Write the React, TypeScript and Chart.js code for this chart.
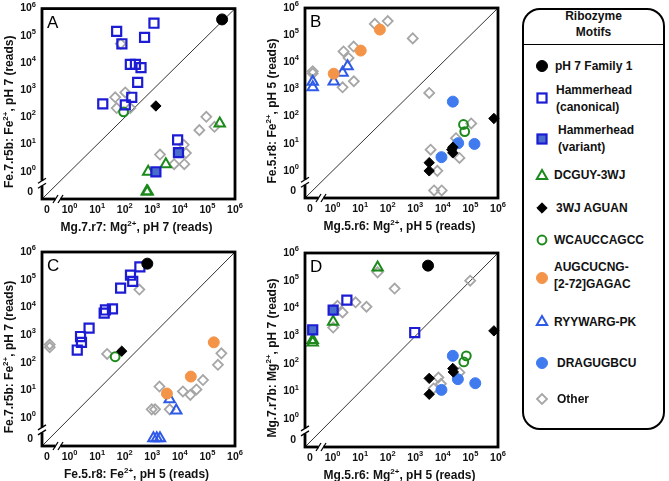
import React, { useEffect, useRef } from 'react';
import { Chart, registerables } from 'chart.js';
Chart.register(...registerables);

const FONT = '"Liberation Sans", Arial, Helvetica, sans-serif';

type Pt = [number, number]; // [x reads, y reads]; 0 reads sits on the broken "0" position

// ---------------- tick labels ----------------
const DECADE_EXPONENTS = [0, 1, 2, 3, 4, 5, 6];
const ZERO_TICK_LABEL = '0';

// ---------------- Panel A ----------------
const A_X_TITLE = 'Mg.7.r7: Mg^{2+}, pH 7 (reads)';
const A_Y_TITLE = 'Fe.7.r5b: Fe^{2+}, pH 7 (reads)';
const A_pH7: Pt[] = [[340000, 400000]];
const A_hhCanon: Pt[] = [[51, 145000], [79, 51000], [1150, 290000], [525, 87000], [160, 8900], [245, 8900], [390, 6800], [295, 1950], [180, 550], [105, 290], [16, 316], [8300, 15]];
const A_hhVariant: Pt[] = [[8900, 5.1], [1350, 1]];
const A_dcguy: Pt[] = [[280000, 60], [3100, 1.9], [710, 1], [630, 0], [680, 0]];
const A_aguan: Pt[] = [[1350, 263]];
const A_wcauc: Pt[] = [[91, 160]];
const A_augcu: Pt[] = [];
const A_ryywarg: Pt[] = [];
const A_dragu: Pt[] = [];
const A_other: Pt[] = [[45, 550], [105, 830], [51, 220], [160, 220], [72, 51000], [1900, 4.3], [6200, 1.9], [14500, 1.9], [16600, 4.9], [51000, 34], [91000, 105], [180000, 45], [13800, 9.8]];

// ---------------- Panel B ----------------
const B_X_TITLE = 'Mg.5.r6: Mg^{2+}, pH 5 (reads)';
const B_Y_TITLE = 'Fe.5.r8: Fe^{2+}, pH 5 (reads)';
const B_pH7: Pt[] = [];
const B_hhCanon: Pt[] = [];
const B_hhVariant: Pt[] = [];
const B_dcguy: Pt[] = [];
const B_aguan: Pt[] = [[3200, 2], [3200, 1], [23000, 7.4], [21000, 6], [23000, 4.6], [710000, 85]];
const B_wcauc: Pt[] = [[56000, 51], [62000, 28]];
const B_augcu: Pt[] = [[52, 160000], [10.5, 27000], [1.1, 3800]];
const B_ryywarg: Pt[] = [[0, 1900], [0, 1200], [1.1, 1950], [2.3, 4100], [3.5, 7200]];
const B_dragu: Pt[] = [[23000, 355], [8900, 3.2], [36000, 10.5], [140000, 9.8]];
const B_other: Pt[] = [[34, 260000], [100, 330000], [810, 76000], [2.5, 25000], [5.8, 38000], [3.8, 14500], [5.9, 2000], [2.3, 1200], [0, 4700], [0, 3900], [3200, 740], [3600, 6], [6300, 1], [4800, 0], [9100, 0], [40000, 3], [30000, 16], [107000, 56]];

// ---------------- Panel C ----------------
const C_X_TITLE = 'Fe.5.r8: Fe^{2+}, pH 5 (reads)';
const C_Y_TITLE = 'Fe.7.r5b: Fe^{2+}, pH 7 (reads)';
const C_pH7: Pt[] = [[660, 380000]];
const C_hhCanon: Pt[] = [[355, 290000], [162, 145000], [195, 87000], [71, 50000], [36, 8900], [20, 8100], [18, 6200], [5.1, 1800], [2.5, 890], [2.7, 550], [1.9, 290]];
const C_hhVariant: Pt[] = [];
const C_dcguy: Pt[] = [];
const C_aguan: Pt[] = [[78, 263]];
const C_wcauc: Pt[] = [[45, 166]];
const C_augcu: Pt[] = [[170000, 550], [25000, 32], [3400, 7.8]];
const C_ryywarg: Pt[] = [[4270, 4.9], [7400, 1.9], [1100, 0], [1450, 0], [1900, 0]];
const C_dragu: Pt[] = [];
const C_other: Pt[] = [[0, 363], [0, 460], [23, 209], [340, 44000], [1820, 14], [1260, 2.1], [950, 2.1], [4270, 2.1], [12900, 9.3], [24000, 7], [40000, 11], [69000, 24], [240000, 85], [320000, 220]];

// ---------------- Panel D ----------------
const D_X_TITLE = 'Mg.5.r6: Mg^{2+}, pH 5 (reads)';
const D_Y_TITLE = 'Mg.7.r7b: Mg^{2+}, pH 7 (reads)';
const D_pH7: Pt[] = [[2900, 350000]];
const D_hhCanon: Pt[] = [[3.3, 20000], [955, 1350]];
const D_hhVariant: Pt[] = [[1.05, 8700], [0, 1700]];
const D_dcguy: Pt[] = [[43, 300000], [1.05, 3300], [0, 720], [0, 590]];
const D_aguan: Pt[] = [[710000, 1550], [3200, 30], [23000, 68], [24000, 51], [3200, 8]];
const D_wcauc: Pt[] = [[71000, 195], [57500, 117]];
const D_augcu: Pt[] = [];
const D_ryywarg: Pt[] = [];
const D_dragu: Pt[] = [[23000, 195], [35000, 28], [150000, 20], [8900, 11.5]];
const D_other: Pt[] = [[43, 200000], [178, 52000], [6.8, 16600], [17, 11500], [2.3, 7200], [1.5, 12500], [1.05, 2040], [98000, 100000], [6900, 32], [8500, 19], [4600, 13], [40000, 49]];

// ---------------- styles ----------------
const AXIS_MIN = -1;
const AXIS_MAX = 6;
const ZERO_POS = -0.72;
const X_ZERO_LABEL_POS = -0.82;
const Y_ZERO_LABEL_POS = -0.75;
const BREAK_POS = -0.42;
const NONE = 'rgba(0,0,0,0)';

type MotifKey = 'pH7' | 'hhCanon' | 'hhVariant' | 'dcguy' | 'aguan' | 'wcauc' | 'augcu' | 'ryywarg' | 'dragu' | 'other';
interface MotifStyle { key: MotifKey; label: string; shape: 'circle' | 'rect' | 'triangle' | 'rectRot'; fill: string; stroke: string; r: number; bw: number; }

const MOTIFS: MotifStyle[] = [
  { key: 'pH7', label: 'pH 7 Family 1', shape: 'circle', fill: '#000000', stroke: '#000000', r: 5.5, bw: 1 },
  { key: 'hhCanon', label: 'Hammerhead\n(canonical)', shape: 'rect', fill: NONE, stroke: '#1c1cd4', r: 6.4, bw: 2.2 },
  { key: 'hhVariant', label: 'Hammerhead\n(variant)', shape: 'rect', fill: '#4a6ccc', stroke: '#1c1cd4', r: 6.4, bw: 2.2 },
  { key: 'dcguy', label: 'DCGUY-3WJ', shape: 'triangle', fill: NONE, stroke: '#1b8a1b', r: 6, bw: 2 },
  { key: 'aguan', label: '3WJ AGUAN', shape: 'rectRot', fill: '#000000', stroke: '#000000', r: 5.2, bw: 1 },
  { key: 'wcauc', label: 'WCAUCCAGCC', shape: 'circle', fill: NONE, stroke: '#1b8a1b', r: 4.4, bw: 2 },
  { key: 'augcu', label: 'AUGCUCNG-\n[2-72]GAGAC', shape: 'circle', fill: '#f39449', stroke: '#f39449', r: 5.5, bw: 1 },
  { key: 'ryywarg', label: 'RYYWARG-PK', shape: 'triangle', fill: NONE, stroke: '#2f5ae8', r: 6, bw: 2 },
  { key: 'dragu', label: 'DRAGUGBCU', shape: 'circle', fill: '#3f7bef', stroke: '#3f7bef', r: 5.5, bw: 1 },
  { key: 'other', label: 'Other', shape: 'rectRot', fill: NONE, stroke: '#a6a6a6', r: 5, bw: 1.8 },
];

interface PanelDef {
  letter: string; xTitle: string; yTitle: string;
  left: number; top: number; width: number; height: number;
  pad: { left: number; top: number; right: number; bottom: number };
  data: Record<MotifKey, Pt[]>;
}

const PANELS: PanelDef[] = [
  { letter: 'A', xTitle: A_X_TITLE, yTitle: A_Y_TITLE, left: 0, top: 0, width: 260, height: 245,
    pad: { left: 42, top: 5, right: 25, bottom: 46 },
    data: { pH7: A_pH7, hhCanon: A_hhCanon, hhVariant: A_hhVariant, dcguy: A_dcguy, aguan: A_aguan, wcauc: A_wcauc, augcu: A_augcu, ryywarg: A_ryywarg, dragu: A_dragu, other: A_other } },
  { letter: 'B', xTitle: B_X_TITLE, yTitle: B_Y_TITLE, left: 250, top: 0, width: 265, height: 245,
    pad: { left: 55, top: 5, right: 17, bottom: 47 },
    data: { pH7: B_pH7, hhCanon: B_hhCanon, hhVariant: B_hhVariant, dcguy: B_dcguy, aguan: B_aguan, wcauc: B_wcauc, augcu: B_augcu, ryywarg: B_ryywarg, dragu: B_dragu, other: B_other } },
  { letter: 'C', xTitle: C_X_TITLE, yTitle: C_Y_TITLE, left: 0, top: 240, width: 260, height: 241,
    pad: { left: 42, top: 12, right: 25, bottom: 35 },
    data: { pH7: C_pH7, hhCanon: C_hhCanon, hhVariant: C_hhVariant, dcguy: C_dcguy, aguan: C_aguan, wcauc: C_wcauc, augcu: C_augcu, ryywarg: C_ryywarg, dragu: C_dragu, other: C_other } },
  { letter: 'D', xTitle: D_X_TITLE, yTitle: D_Y_TITLE, left: 250, top: 240, width: 265, height: 241,
    pad: { left: 55, top: 13, right: 17, bottom: 34 },
    data: { pH7: D_pH7, hhCanon: D_hhCanon, hhVariant: D_hhVariant, dcguy: D_dcguy, aguan: D_aguan, wcauc: D_wcauc, augcu: D_augcu, ryywarg: D_ryywarg, dragu: D_dragu, other: D_other } },
];

const toPos = (v: number) => (v <= 0 ? ZERO_POS : Math.log10(v));

function parseRich(text: string) {
  const parts: { t: string; sup: boolean }[] = [];
  const re = /\^\{([^}]*)\}/g;
  let last = 0; let m: RegExpExecArray | null;
  while ((m = re.exec(text))) {
    if (m.index > last) parts.push({ t: text.slice(last, m.index), sup: false });
    parts.push({ t: m[1], sup: true });
    last = m.index + m[0].length;
  }
  if (last < text.length) parts.push({ t: text.slice(last), sup: false });
  return parts;
}

function drawRich(ctx: CanvasRenderingContext2D, text: string, x: number, y: number, align: 'left' | 'center' | 'right', size: number, supRatio = 0.68) {
  const parts = parseRich(text);
  const base = `bold ${size}px ${FONT}`;
  const sup = `bold ${Math.round(size * supRatio * 2) / 2}px ${FONT}`;
  const widths = parts.map((p) => { ctx.font = p.sup ? sup : base; return ctx.measureText(p.t).width; });
  const total = widths.reduce((a, b) => a + b, 0);
  let cx = align === 'center' ? x - total / 2 : align === 'right' ? x - total : x;
  ctx.textAlign = 'left';
  ctx.textBaseline = 'middle';
  parts.forEach((p, i) => {
    ctx.font = p.sup ? sup : base;
    ctx.fillText(p.t, cx, p.sup ? y - size * 0.38 : y);
    cx += widths[i];
  });
}

function decorPlugin(panel: PanelDef) {
  return {
    id: 'decor' + panel.letter,
    afterDraw(chart: any) {
      const { ctx, chartArea: ca, scales } = chart;
      const xs = scales.x; const ys = scales.y;
      ctx.save();
      ctx.fillStyle = '#000';
      ctx.strokeStyle = '#000';
      // frame
      ctx.lineWidth = 2.8;
      ctx.strokeRect(ca.left, ca.top, ca.right - ca.left, ca.bottom - ca.top);
      // axis breaks
      const yb = ys.getPixelForValue(BREAK_POS);
      const xb = xs.getPixelForValue(BREAK_POS);
      ctx.fillStyle = '#fff';
      ctx.fillRect(ca.left - 3, yb - 2.5, 6, 5);
      ctx.fillRect(xb - 2.5, ca.bottom - 3, 5, 6);
      ctx.lineWidth = 1.3;
      for (const d of [-2.5, 2.5]) {
        ctx.beginPath(); ctx.moveTo(ca.left - 4, yb + d + 2.5); ctx.lineTo(ca.left + 4, yb + d - 2.5); ctx.stroke();
        ctx.beginPath(); ctx.moveTo(xb + d - 2.5, ca.bottom + 4); ctx.lineTo(xb + d + 2.5, ca.bottom - 4); ctx.stroke();
      }
      // tick labels
      ctx.fillStyle = '#111';
      drawRich(ctx, ZERO_TICK_LABEL, xs.getPixelForValue(X_ZERO_LABEL_POS), ca.bottom + 11, 'center', 10.5);
      drawRich(ctx, ZERO_TICK_LABEL, ca.left - 9, ys.getPixelForValue(Y_ZERO_LABEL_POS), 'right', 10.5);
      for (const e of DECADE_EXPONENTS) {
        const label = `10^{${e}}`;
        drawRich(ctx, label, xs.getPixelForValue(e), ca.bottom + 11, 'center', 10.5, 0.72);
        drawRich(ctx, label, ca.left - 6, ys.getPixelForValue(e), 'right', 10.5, 0.72);
      }
      // axis titles
      drawRich(ctx, panel.xTitle, (ca.left + ca.right) / 2 - 2, ca.bottom + 29, 'center', 12);
      ctx.save();
      ctx.translate(ca.left - 32, (ca.top + ca.bottom) / 2 + 8);
      ctx.rotate(-Math.PI / 2);
      drawRich(ctx, panel.yTitle, 0, 0, 'center', 12);
      ctx.restore();
      // panel letter
      ctx.font = `17px ${FONT}`;
      ctx.textAlign = 'left';
      ctx.textBaseline = 'alphabetic';
      ctx.fillStyle = '#000';
      ctx.fillText(panel.letter, ca.left + 5, ca.top + 19);
      ctx.restore();
    },
  };
}

function Panel({ panel }: { panel: PanelDef }) {
  const ref = useRef<HTMLCanvasElement | null>(null);
  useEffect(() => {
    if (!ref.current) return;
    const datasets: any[] = MOTIFS.map((m, i) => ({
      label: m.label,
      data: panel.data[m.key].map(([x, y]) => ({ x: toPos(x), y: toPos(y) })),
      pointStyle: m.shape,
      pointRadius: m.r,
      pointBackgroundColor: m.fill,
      pointBorderColor: m.stroke,
      pointBorderWidth: m.bw,
      showLine: false,
      clip: false,
      order: m.key === 'other' ? 50 : i,
    }));
    datasets.push({
      label: 'y = x',
      data: [{ x: AXIS_MIN, y: AXIS_MIN }, { x: AXIS_MAX, y: AXIS_MAX }],
      showLine: true,
      borderColor: '#333',
      borderWidth: 1,
      pointRadius: 0,
      order: 100,
    });
    const chart = new Chart(ref.current, {
      type: 'scatter',
      data: { datasets },
      options: {
        animation: false,
        responsive: false,
        maintainAspectRatio: false,
        events: [],
        layout: { padding: panel.pad },
        scales: {
          x: { type: 'linear', min: AXIS_MIN, max: AXIS_MAX, display: false },
          y: { type: 'linear', min: AXIS_MIN, max: AXIS_MAX, display: false },
        },
        plugins: { legend: { display: false }, tooltip: { enabled: false } },
      },
      plugins: [decorPlugin(panel)],
    } as any);
    return () => chart.destroy();
  }, [panel]);
  return (
    <canvas
      ref={ref}
      width={panel.width}
      height={panel.height}
      style={{ position: 'absolute', left: panel.left, top: panel.top, width: panel.width, height: panel.height }}
    />
  );
}

// legend layout (marker center y, text center y, text left)
const LEGEND_ROWS: { key: MotifKey; markerY: number; textY: number; textX: number }[] = [
  { key: 'pH7', markerY: 66, textY: 66, textX: 555 },
  { key: 'hhCanon', markerY: 98, textY: 99, textX: 556 },
  { key: 'hhVariant', markerY: 139, textY: 139, textX: 558 },
  { key: 'dcguy', markerY: 176, textY: 175, textX: 554 },
  { key: 'aguan', markerY: 208, textY: 208, textX: 556 },
  { key: 'wcauc', markerY: 240, textY: 240, textX: 554 },
  { key: 'augcu', markerY: 278, textY: 276, textX: 554 },
  { key: 'ryywarg', markerY: 322, textY: 322, textX: 554 },
  { key: 'dragu', markerY: 363, textY: 363, textX: 557 },
  { key: 'other', markerY: 399, textY: 399, textX: 557 },
];

function Marker({ m, cx, cy }: { m: MotifStyle; cx: number; cy: number }) {
  const s = 16;
  const c = s / 2;
  let shape: React.ReactNode = null;
  const r = m.r;
  const fill = m.fill === NONE ? 'none' : m.fill;
  if (m.shape === 'circle') shape = <circle cx={c} cy={c} r={r} fill={fill} stroke={m.stroke} strokeWidth={m.bw} />;
  else if (m.shape === 'rect') { const h = r * Math.SQRT1_2; shape = <rect x={c - h} y={c - h} width={2 * h} height={2 * h} fill={fill} stroke={m.stroke} strokeWidth={m.bw} />; }
  else if (m.shape === 'rectRot') shape = <polygon points={`${c - r},${c} ${c},${c - r} ${c + r},${c} ${c},${c + r}`} fill={fill} stroke={m.stroke} strokeWidth={m.bw} />;
  else { const pts = [0, 1, 2].map((k) => { const a = (k * 2 * Math.PI) / 3; return `${c + Math.sin(a) * r},${c - Math.cos(a) * r}`; }).join(' '); shape = <polygon points={pts} fill={fill} stroke={m.stroke} strokeWidth={m.bw} />; }
  return (
    <svg width={s} height={s} style={{ position: 'absolute', left: cx - c, top: cy - c }}>{shape}</svg>
  );
}

function Legend() {
  return (
    <>
      <div style={{ position: 'absolute', left: 522, top: 8, width: 143, height: 422, boxSizing: 'border-box', border: '2px solid #000', borderRadius: 18 }} />
      <div style={{ position: 'absolute', left: 522, top: 8, width: 143, textAlign: 'center', font: `bold 12px ${FONT}`, lineHeight: '16px', color: '#111' }}>
        Ribozyme<br />Motifs
      </div>
      <div style={{ position: 'absolute', left: 523, top: 44, width: 141, height: 0, borderTop: '1.5px solid #000' }} />
      {LEGEND_ROWS.map((row) => {
        const m = MOTIFS.find((mm) => mm.key === row.key)!;
        const lines = m.label.split('\n');
        const lh = 17;
        return (
          <React.Fragment key={row.key}>
            <Marker m={m} cx={542} cy={row.markerY} />
            <div style={{ position: 'absolute', left: row.textX, top: row.textY - (lines.length * lh) / 2, font: `bold 12px ${FONT}`, lineHeight: `${lh}px`, whiteSpace: 'pre', color: '#111' }}>
              {m.label}
            </div>
          </React.Fragment>
        );
      })}
    </>
  );
}

export default function App() {
  return (
    <div style={{ position: 'fixed', left: 0, top: 0, width: 669, height: 481, background: '#fff', overflow: 'hidden' }}>
      {PANELS.map((p) => <Panel key={p.letter} panel={p} />)}
      <Legend />
    </div>
  );
}
